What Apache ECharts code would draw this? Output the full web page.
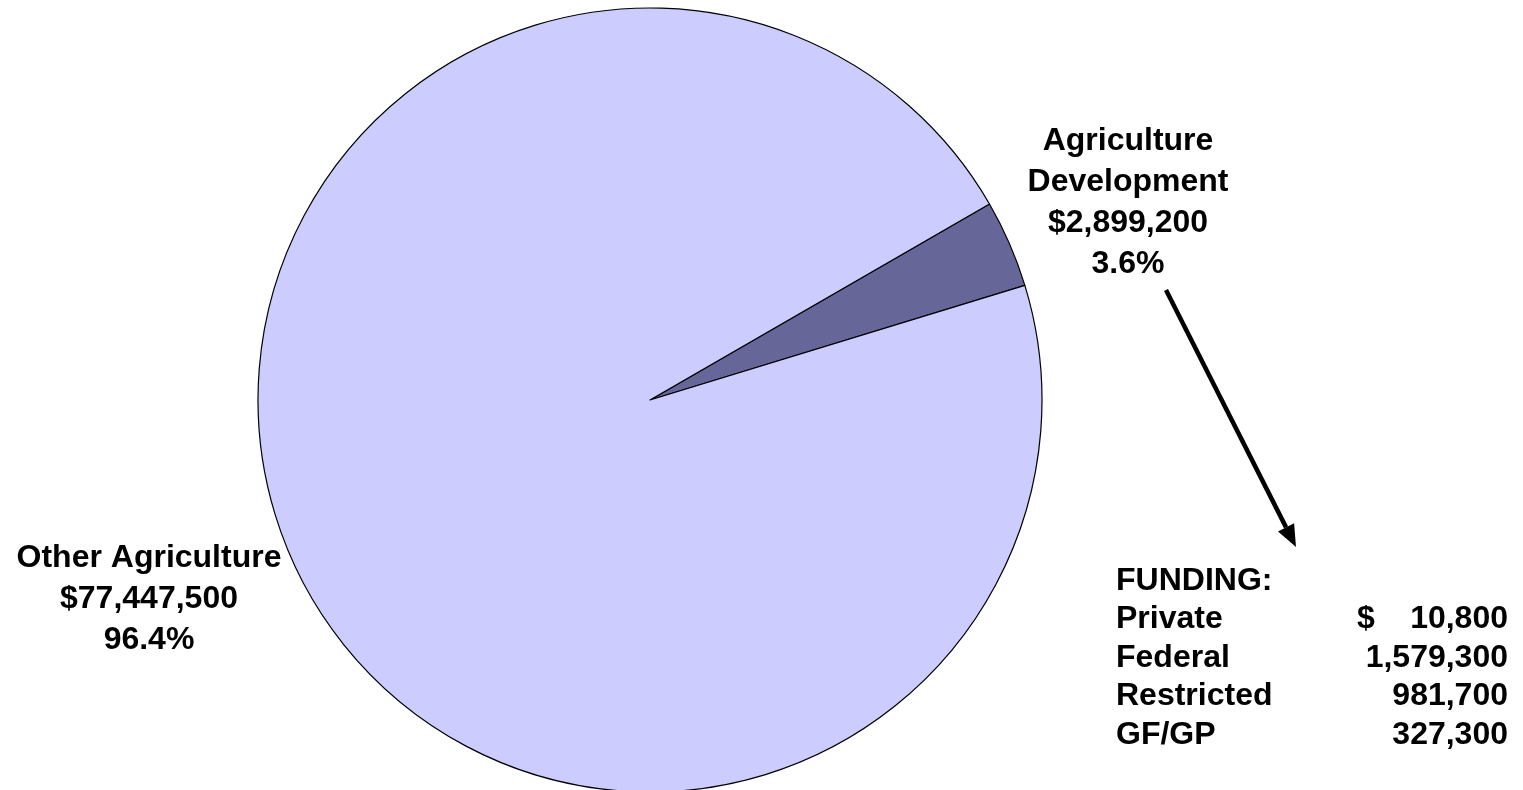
<!DOCTYPE html>
<html>
<head>
<meta charset="utf-8">
<script src="https://cdn.jsdelivr.net/npm/echarts@6/dist/echarts.min.js"></script>
<style>
  html, body { margin: 0; padding: 0; background: #fff; }
  #chart { width: 1523px; height: 790px; }
</style>
</head>
<body>
<div id="chart"></div>
<script>
// slice data
const categories = ['Agriculture Development', 'Other Agriculture']
const amounts = [2899200, 77447500]
const sliceColors = ['#666699', '#CCCCFF']

// funding breakdown for Agriculture Development
const fundingSources = ['Private', 'Federal', 'Restricted', 'GF/GP']
const fundingAmounts = [10800, 1579300, 981700, 327300]

const font = "'Liberation Sans', Arial, sans-serif"
const labelSpots = [
  { x: 1128, y: 203 },   // Agriculture Development
  { x: 149, y: 599 }     // Other Agriculture
]

const fmt = n => n.toLocaleString('en-US')

const chart = echarts.init(document.getElementById('chart'))

const tableLeft = 1116
const tableRight = 1508
const tableTop = 581
const rowGap = 38.5
const textFont = `bold 32px ${font}`

const tableTexts = [{
  type: 'text', x: tableLeft, y: tableTop, silent: true,
  style: { text: 'FUNDING:', font: textFont, fill: '#000', verticalAlign: 'middle' }
}]
fundingSources.forEach((name, i) => {
  const y = tableTop + (i + 1) * rowGap
  tableTexts.push({
    type: 'text', x: tableLeft, y, silent: true,
    style: { text: name, font: textFont, fill: '#000', verticalAlign: 'middle', align: 'left' }
  })
  tableTexts.push({
    type: 'text', x: tableRight, y, silent: true,
    style: { text: fmt(fundingAmounts[i]), font: textFont, fill: '#000', verticalAlign: 'middle', align: 'right' }
  })
  if (i === 0) {
    tableTexts.push({
      type: 'text', x: 1357, y, silent: true,
      style: { text: '$', font: textFont, fill: '#000', verticalAlign: 'middle', align: 'left' }
    })
  }
})

// arrow from the slice label down to the funding table
const arrowFrom = [1166, 290]
const arrowTo = [1296, 547]
const ang = Math.atan2(arrowTo[1] - arrowFrom[1], arrowTo[0] - arrowFrom[0])
const headLen = 22, headW = 9
const base = [arrowTo[0] - headLen * Math.cos(ang), arrowTo[1] - headLen * Math.sin(ang)]
const px = -Math.sin(ang), py = Math.cos(ang)

chart.setOption({
  animation: false,
  backgroundColor: '#fff',
  series: [{
    type: 'pie',
    center: [650, 400],
    radius: 392,
    startAngle: 30,
    clockwise: true,
    percentPrecision: 1,
    silent: true,
    itemStyle: { borderColor: '#000', borderWidth: 1.2 },
    labelLine: { show: false },
    label: {
      show: true,
      position: 'outside',
      overflow: 'none',
      formatter: p => `${p.name === 'Agriculture Development' ? 'Agriculture\nDevelopment' : p.name}\n$${fmt(p.value)}\n${p.percent.toFixed(1)}%`,
      fontFamily: font,
      fontWeight: 'bold',
      fontSize: 32,
      lineHeight: 41,
      color: '#000',
      align: 'center'
    },
    labelLayout: p => ({
      x: labelSpots[p.dataIndex].x,
      y: labelSpots[p.dataIndex].y,
      align: 'center',
      verticalAlign: 'middle'
    }),
    data: categories.map((name, i) => ({ name, value: amounts[i], itemStyle: { color: sliceColors[i] } }))
  }],
  graphic: [
    {
      type: 'line', silent: true,
      shape: { x1: arrowFrom[0], y1: arrowFrom[1], x2: base[0], y2: base[1] },
      style: { stroke: '#000', lineWidth: 4.5 }
    },
    {
      type: 'polygon', silent: true,
      shape: { points: [arrowTo, [base[0] + px * headW, base[1] + py * headW], [base[0] - px * headW, base[1] - py * headW]] },
      style: { fill: '#000' }
    },
    ...tableTexts
  ]
})
</script>
</body>
</html>
